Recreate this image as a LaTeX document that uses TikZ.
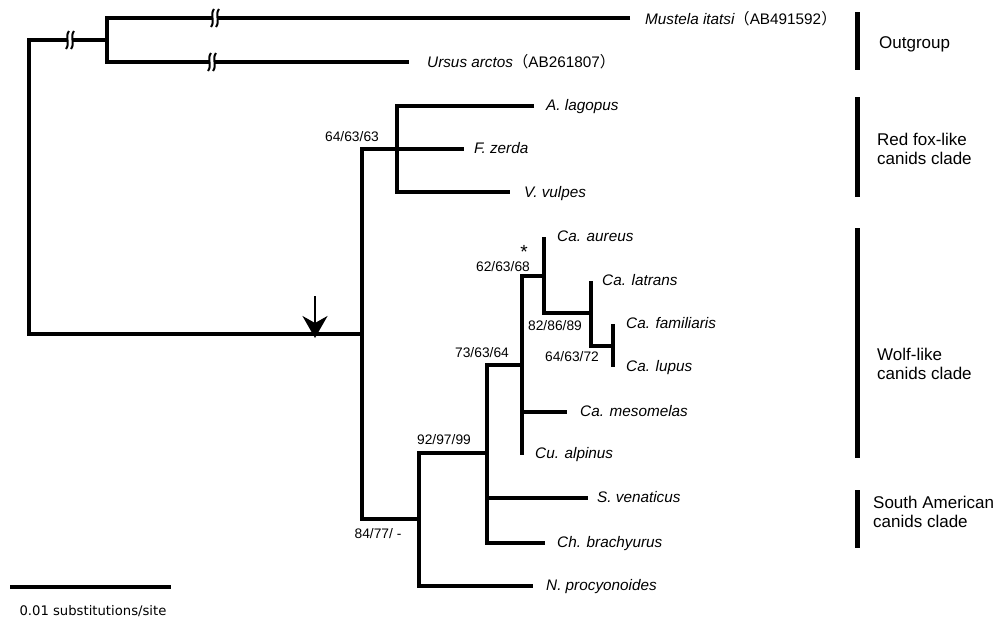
\documentclass[tikz,border=0pt]{standalone}
\usepackage{fontspec}
\setmainfont{Liberation Sans}
\newfontfamily\jpfont{Noto Sans CJK JP}
\newfontfamily\dvfont{DejaVu Sans}
\usetikzlibrary{arrows.meta}
\begin{document}
\begin{tikzpicture}[x=1pt,y=-1pt,
  br/.style={line width=3.4pt, line join=miter, line cap=butt},
  taxon/.style={anchor=west, inner sep=0pt, font=\fontsize{15.3}{18}\selectfont\itshape, text height=10.9pt, text depth=0pt},
  boot/.style={anchor=center, inner sep=0pt, font=\fontsize{13.8}{16}\selectfont, text height=9.9pt, text depth=0pt},
  clade/.style={anchor=west, inner sep=0pt, align=left, font=\fontsize{17}{19.5}\selectfont},
  cbar/.style={line width=5pt},
  brkmark/.pic={
    \fill[white] (-2.4,-4) rectangle (2.4,4);
    \draw[line width=2pt] (-1.0,-9) .. controls (-5.5,-3) and (0.5,3) .. (-4.0,9);
    \draw[line width=2pt] (4.0,-9) .. controls (-0.5,-3) and (5.5,3) .. (1.0,9);
  }
]
\useasboundingbox (0,0) rectangle (994,624);

% ---- tree coordinates ----
\coordinate (Rb) at (29,334);
\coordinate (Ogn) at (107,40);
\coordinate (Ob) at (107,62);
\coordinate (Must) at (630,18);
\coordinate (Urs) at (409,62);
\coordinate (Ing) at (362,334);
\coordinate (Ib) at (362,519);
\coordinate (Rf) at (397,149);
\coordinate (Rfb) at (397,192);
\coordinate (Alag) at (534,106);
\coordinate (Fz) at (464,149);
\coordinate (Vvul) at (510,192);
\coordinate (Ws) at (419,519);
\coordinate (Wb) at (419,586);
\coordinate (Nproc) at (533,586);
\coordinate (N92) at (487,453);
\coordinate (Sj) at (487,498);
\coordinate (Sven) at (588,498);
\coordinate (Sb) at (487,543);
\coordinate (Chb) at (545,543);
\coordinate (N73) at (522,365);
\coordinate (Mj) at (522,412);
\coordinate (Mes) at (567,412);
\coordinate (Cua) at (522,455);
\coordinate (N62) at (544,276);
\coordinate (Aur) at (544,237);
\coordinate (N82) at (591,313);
\coordinate (Lat) at (591,281);
\coordinate (N64) at (613,346);
\coordinate (Fam) at (613,324);
\coordinate (Lup) at (613,367);

% ---- branches ----
\draw[br] (Ogn) -| (Rb) -- (Ing);
\draw[br] (Must) -| (Ob) -- (Urs);
\draw[br] (Rf) -| (Ib) -- (Ws);
\draw[br] (Alag) -| (Rfb) -- (Vvul);
\draw[br] (Rf) -- (Fz);
\draw[br] (N92) -| (Wb) -- (Nproc);
\draw[br] (N73) -| (Sb) -- (Chb);
\draw[br] (Sj) -- (Sven);
\draw[br] (N62) -| (Cua);
\draw[br] (Mj) -- (Mes);
\draw[br] (Aur) |- (N82);
\draw[br] (Lat) |- (N64);
\draw[br] (Fam) -- (Lup);

% ---- break marks ----
\pic at (70,40) {brkmark};
\pic at (215,18) {brkmark};
\pic at (212,62) {brkmark};

% ---- arrow ----
\coordinate (arrS) at (315,296);
\coordinate (arrE) at (315,338);
\draw[line width=1.6pt, -{Stealth[length=22pt, width=25pt, inset=7pt]}] (arrS) -- (arrE);

% ---- taxon labels ----
\node[taxon] (tMust) at (645,19) {Mustela itatsi\upshape{\jpfont （}AB491592{\jpfont ）}};
\node[taxon] (tUrs) at (427,62) {Ursus arctos\upshape{\jpfont （}AB261807{\jpfont ）}};
\node[taxon] (tAlag) at (546,105) {A. lagopus};
\node[taxon] (tFz) at (474,148) {F. zerda};
\node[taxon] (tVvul) at (524,192) {V. vulpes};
\node[taxon] (tAur) at (557,236) {Ca. aureus};
\node[taxon] (tLat) at (602,280) {Ca. latrans};
\node[taxon] (tFam) at (626,323) {Ca. familiaris};
\node[taxon] (tLup) at (626,366) {Ca. lupus};
\node[taxon] (tMes) at (580,411) {Ca. mesomelas};
\node[taxon] (tCua) at (535,453) {Cu. alpinus};
\node[taxon] (tSven) at (597,497) {S. venaticus};
\node[taxon] (tChb) at (557,542) {Ch. brachyurus};
\node[taxon] (tNproc) at (546,585) {N. procyonoides};

% ---- support values ----
\node[boot] (b1) at (352,137) {64/63/63};
\node[boot] (b2) at (503,267) {62/63/68};
\node[boot, font=\fontsize{19}{20}\selectfont] (ast) at (524,254) {*};
\node[boot] (b3) at (555,326) {82/86/89};
\node[boot] (b4) at (572,357) {64/63/72};
\node[boot] (b5) at (482,353) {73/63/64};
\node[boot] (b6) at (444,440) {92/97/99};
\node[boot] (b7) at (378,534) {84/77/ -};

% ---- clade bars and labels ----
\draw[cbar] (857,12) -- (857,70);
\draw[cbar] (857,97) -- (857,197);
\draw[cbar] (857,228) -- (857,458);
\draw[cbar] (857,490) -- (857,548);
\node[clade] (cOut) at (879,44) {Outgroup};
\node[clade] (cRed) at (877,149) {Red fox-like\\canids clade};
\node[clade] (cWolf) at (877,364) {Wolf-like\\canids clade};
\node[clade] (cSA) at (873,512) {South American\\canids clade};

% ---- scale bar ----
\coordinate (sbL) at (10,587);
\coordinate (sbR) at (171,587);
\draw[line width=3.4pt] (sbL) -- (sbR);
\node[anchor=center, inner sep=0pt, font=\dvfont\fontsize{13.2}{15}\selectfont] (sbT) at (93,611) {0.01 substitutions/site};
\end{tikzpicture}
\end{document}
